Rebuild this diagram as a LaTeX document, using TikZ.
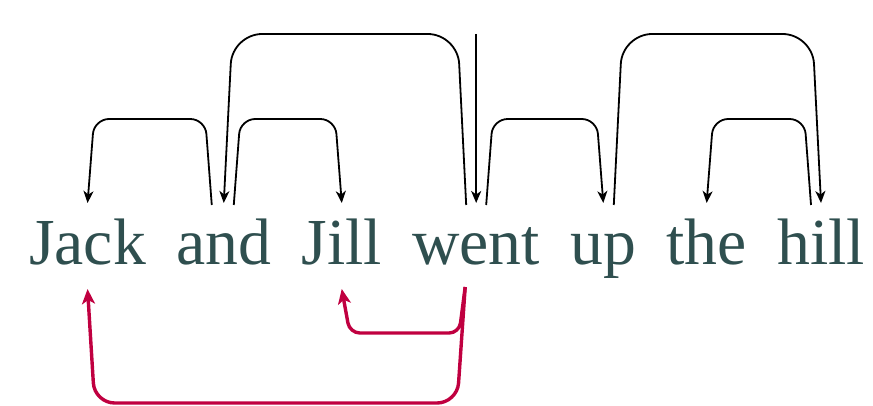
\documentclass[tikz,border=0pt]{standalone}
\usepackage{fontspec}
\setmainfont{Liberation Serif}
\usetikzlibrary{positioning,calc,arrows.meta}
\definecolor{wordcol}{RGB}{47,79,79}
\definecolor{depred}{RGB}{192,0,64}

\begin{document}
\begin{tikzpicture}[
        x=1pt, y=1pt,
        word/.style={inner sep=0pt, text=wordcol, font=\fontsize{65.7pt}{70pt}\selectfont},
        dep/.style={-{Stealth[length=12pt,width=10pt,inset=3.5pt]}, line width=1.8pt, rounded corners=15pt},
        deplong/.style={dep, rounded corners=30pt},
        deprev/.style={-{Stealth[length=15pt,width=13pt,inset=4pt]}, line width=3.4pt, draw=depred, rounded corners=10pt}
    ]
    \useasboundingbox (0,-141) rectangle (873,265);
    % Words
    \node[word, anchor=base west] (jack) at (29,0) {Jack};
    \node[word, base right=30pt of jack] (and) {and};
    \node[word, base right=30pt of and] (jill) {Jill};
    \node[word, base right=30pt of jill] (went) {went};
    \node[word, base right=30pt of went] (up) {up};
    \node[word, base right=30pt of up] (the) {the};
    \node[word, base right=30pt of the] (hill) {hill};
    % Heads and tails above
    \coordinate (jack-top) at ([yshift=62pt]jack.base);
    \coordinate (and-top) at ([yshift=62pt]and.base);
    \coordinate (jill-top) at ([yshift=62pt]jill.base);
    \coordinate (went-top) at ([yshift=62pt]went.base);
    \coordinate (up-top) at ([yshift=62pt]up.base);
    \coordinate (the-top) at ([yshift=62pt]the.base);
    \coordinate (hill-top) at ([yshift=62pt]hill.base);
    \coordinate (and-tl) at ([xshift=-12pt,yshift=60pt]and.base);
    \coordinate (and-tr) at ([xshift=10pt,yshift=60pt]and.base);
    \coordinate (went-tl) at ([xshift=-10pt,yshift=60pt]went.base);
    \coordinate (went-tr) at ([xshift=10pt,yshift=60pt]went.base);
    \coordinate (up-tr) at ([xshift=10.5pt,yshift=60pt]up.base);
    \coordinate (hill-tl) at ([xshift=-10pt,yshift=60pt]hill.base);
    \coordinate (root) at ([yshift=231pt]went.base);
    % Heads and tails below
    \coordinate (jack-bot) at ([yshift=-24pt]jack.base);
    \coordinate (jill-bot) at ([yshift=-24pt]jill.base);
    \coordinate (went-bot) at ([xshift=-11pt,yshift=-22pt]went.base);
    % Arcs above
    \draw[dep] (and-tl) -- ($(and-tl)+(-6.5,86)$) -- ($(jack-top)+(6.5,84)$) -- (jack-top);
    \draw[dep] (and-tr) -- ($(and-tr)+(6.5,86)$) -- ($(jill-top)+(-6.5,84)$) -- (jill-top);
    \draw[deplong] (went-tl) -- ($(went-tl)+(-8.5,171)$) -- ($(and-top)+(8.5,169)$) -- (and-top);
    \draw[dep] (root) -- (went-top);
    \draw[dep] (went-tr) -- ($(went-tr)+(6.5,86)$) -- ($(up-top)+(-6.5,84)$) -- (up-top);
    \draw[deplong] (up-tr) -- ($(up-tr)+(8.5,171)$) -- ($(hill-top)+(-8.5,169)$) -- (hill-top);
    \draw[dep] (hill-tl) -- ($(hill-tl)+(-6.5,86)$) -- ($(the-top)+(6.5,84)$) -- (the-top);
    % Arcs below
    \draw[deprev] (went-bot) -- ($(went-bot)+(-6,-46)$) -- ($(jill-bot)+(8,-44)$) -- (jill-bot);
    \draw[deprev, rounded corners=20pt] (went-bot) -- ($(went-bot)+(-8,-116)$) -- ($(jack-bot)+(7,-114)$) -- (jack-bot);
\end{tikzpicture}
\end{document}
